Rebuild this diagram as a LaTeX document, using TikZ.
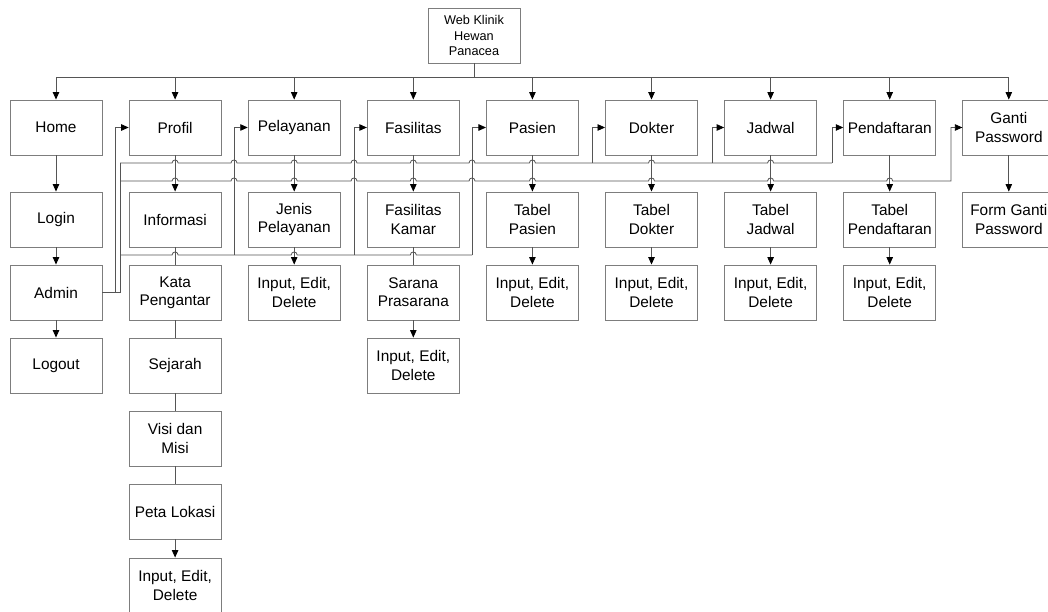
\documentclass[tikz,border=0pt]{standalone}
\usepackage{fontspec}
\setmainfont{Liberation Sans}
\usetikzlibrary{arrows.meta}
\definecolor{boxc}{RGB}{125,125,125}
\definecolor{connc}{RGB}{85,85,85}
\newcommand\hp[2]{-- ({#1-3},#2) .. controls ({#1-3},{#2-4}) and ({#1+3},{#2-4}) .. ({#1+3},#2)}
\tikzset{
  mybox/.style={draw=boxc, line width=0.9pt, minimum width=92pt, minimum height=55pt, inner sep=0pt, align=center, font=\fontsize{15.4}{18.3}\selectfont},
  rootbox/.style={mybox, font=\fontsize{12.7}{15.5}\selectfont},
  conn/.style={draw=connc, line width=0.8pt},
  arr/.style={conn, -{Triangle[length=7.5pt,width=6.5pt,black]}},
}
\begin{document}
\begin{tikzpicture}[x=1pt,y=-1pt]
\useasboundingbox (0,0) rectangle (1048,612);
\fill[white] (0,0) rectangle (1048,612);
% root
\node[rootbox] (root) at (474,35.5) {Web Klinik\\Hewan\\Panacea};
% column 0
\node[mybox] (home) at (56,127.5) {Home};
\node[mybox] (login) at (56,219.5) {Login};
\node[mybox] (admin) at (56,292.5) {Admin};
\node[mybox] (logout) at (56,365.5) {Logout};
% column 1
\node[mybox] (profil) at (175.1,127.5) {Profil};
\node[mybox] (info) at (175.1,219.5) {Informasi};
\node[mybox] (kata) at (175.1,292.5) {Kata\\Pengantar};
\node[mybox] (sejarah) at (175.1,365.5) {Sejarah};
\node[mybox] (visi) at (175.1,438.5) {Visi dan\\Misi};
\node[mybox] (peta) at (175.1,511.5) {Peta Lokasi};
\node[mybox] (iedProf) at (175.1,585.5) {Input, Edit,\\Delete};
% column 2
\node[mybox] (pelayanan) at (294.2,127.5) {Pelayanan};
\node[mybox] (jenis) at (294.2,219.5) {Jenis\\Pelayanan};
\node[mybox] (iedPel) at (294.2,292.5) {Input, Edit,\\Delete};
% column 3
\node[mybox] (fasilitas) at (413.3,127.5) {Fasilitas};
\node[mybox] (faskamar) at (413.3,219.5) {Fasilitas\\Kamar};
\node[mybox] (sarana) at (413.3,292.5) {Sarana\\Prasarana};
\node[mybox] (iedFas) at (413.3,365.5) {Input, Edit,\\Delete};
% column 4
\node[mybox] (pasien) at (532.4,127.5) {Pasien};
\node[mybox] (tpasien) at (532.4,219.5) {Tabel\\Pasien};
\node[mybox] (iedPas) at (532.4,292.5) {Input, Edit,\\Delete};
% column 5
\node[mybox] (dokter) at (651.5,127.5) {Dokter};
\node[mybox] (tdokter) at (651.5,219.5) {Tabel\\Dokter};
\node[mybox] (iedDok) at (651.5,292.5) {Input, Edit,\\Delete};
% column 6
\node[mybox] (jadwal) at (770.6,127.5) {Jadwal};
\node[mybox] (tjadwal) at (770.6,219.5) {Tabel\\Jadwal};
\node[mybox] (iedJad) at (770.6,292.5) {Input, Edit,\\Delete};
% column 7
\node[mybox] (daftar) at (889.7,127.5) {Pendaftaran};
\node[mybox] (tdaftar) at (889.7,219.5) {Tabel\\Pendaftaran};
\node[mybox] (iedDaf) at (889.7,292.5) {Input, Edit,\\Delete};
% column 8
\node[mybox] (ganti) at (1008.8,127.5) {Ganti\\Password};
\node[mybox] (formganti) at (1008.8,219.5) {Form Ganti\\Password};

% root bus
\coordinate (rb) at (474,77);
\draw[conn] (root.south) -- (rb);
\foreach \n in {home,profil,pelayanan,fasilitas,pasien,dokter,jadwal,daftar,ganti}
  \draw[arr] (rb) -| (\n.north);

% column connectors
\draw[arr] (home) -- (login);
\draw[arr] (login) -- (admin);
\draw[arr] (admin) -- (logout);
\draw[arr] (profil) -- (info);
\draw[conn] (info) -- (kata);
\draw[conn] (kata) -- (sejarah);
\draw[conn] (sejarah) -- (visi);
\draw[conn] (visi) -- (peta);
\draw[arr] (peta) -- (iedProf);
\draw[arr] (pelayanan) -- (jenis);
\draw[arr] (jenis) -- (iedPel);
\draw[arr] (fasilitas) -- (faskamar);
\draw[conn] (faskamar) -- (sarana);
\draw[arr] (sarana) -- (iedFas);
\draw[arr] (pasien) -- (tpasien);
\draw[arr] (tpasien) -- (iedPas);
\draw[arr] (dokter) -- (tdokter);
\draw[arr] (tdokter) -- (iedDok);
\draw[arr] (jadwal) -- (tjadwal);
\draw[arr] (tjadwal) -- (iedJad);
\draw[arr] (daftar) -- (tdaftar);
\draw[arr] (tdaftar) -- (iedDaf);
\draw[arr] (ganti) -- (formganti);

% admin connectors
\coordinate (aj) at (120,292.5);
\draw[arr] (admin.east) -- (115,292.5) |- (profil.west);
\draw[conn] (admin.east) -- (aj) -- (120,163);
% upper bus
\draw[conn] (120,163) \hp{175.1}{163} \hp{234}{163} \hp{294.2}{163} \hp{354}{163}
  \hp{413.3}{163} \hp{472}{163} \hp{532.4}{163} \hp{651.5}{163} \hp{770.6}{163} -- (832,163);
\coordinate (bDok) at (592,163);
\coordinate (bJad) at (712,163);
\coordinate (bDaf) at (832,163);
\draw[arr] (bDok) |- (dokter.west);
\draw[arr] (bJad) |- (jadwal.west);
\draw[arr] (bDaf) |- (daftar.west);
% second bus
\coordinate (b2) at (120,181);
\draw[arr] (b2) \hp{175.1}{181} \hp{234}{181} \hp{294.2}{181} \hp{354}{181}
  \hp{413.3}{181} \hp{472}{181} \hp{532.4}{181} \hp{651.5}{181} \hp{770.6}{181}
  \hp{889.7}{181} -- (951,181) |- (ganti.west);
% lower bus
\coordinate (b3) at (120,255);
\draw[conn] (b3) \hp{175.1}{255} -- (234,255) \hp{294.2}{255} -- (354,255) \hp{413.3}{255} -- (472,255);
\coordinate (bPel) at (234,255);
\coordinate (bFas) at (354,255);
\coordinate (bPas) at (472,255);
\draw[arr] (bPel) |- (pelayanan.west);
\draw[arr] (bFas) |- (fasilitas.west);
\draw[arr] (bPas) |- (pasien.west);
\end{tikzpicture}
\end{document}
